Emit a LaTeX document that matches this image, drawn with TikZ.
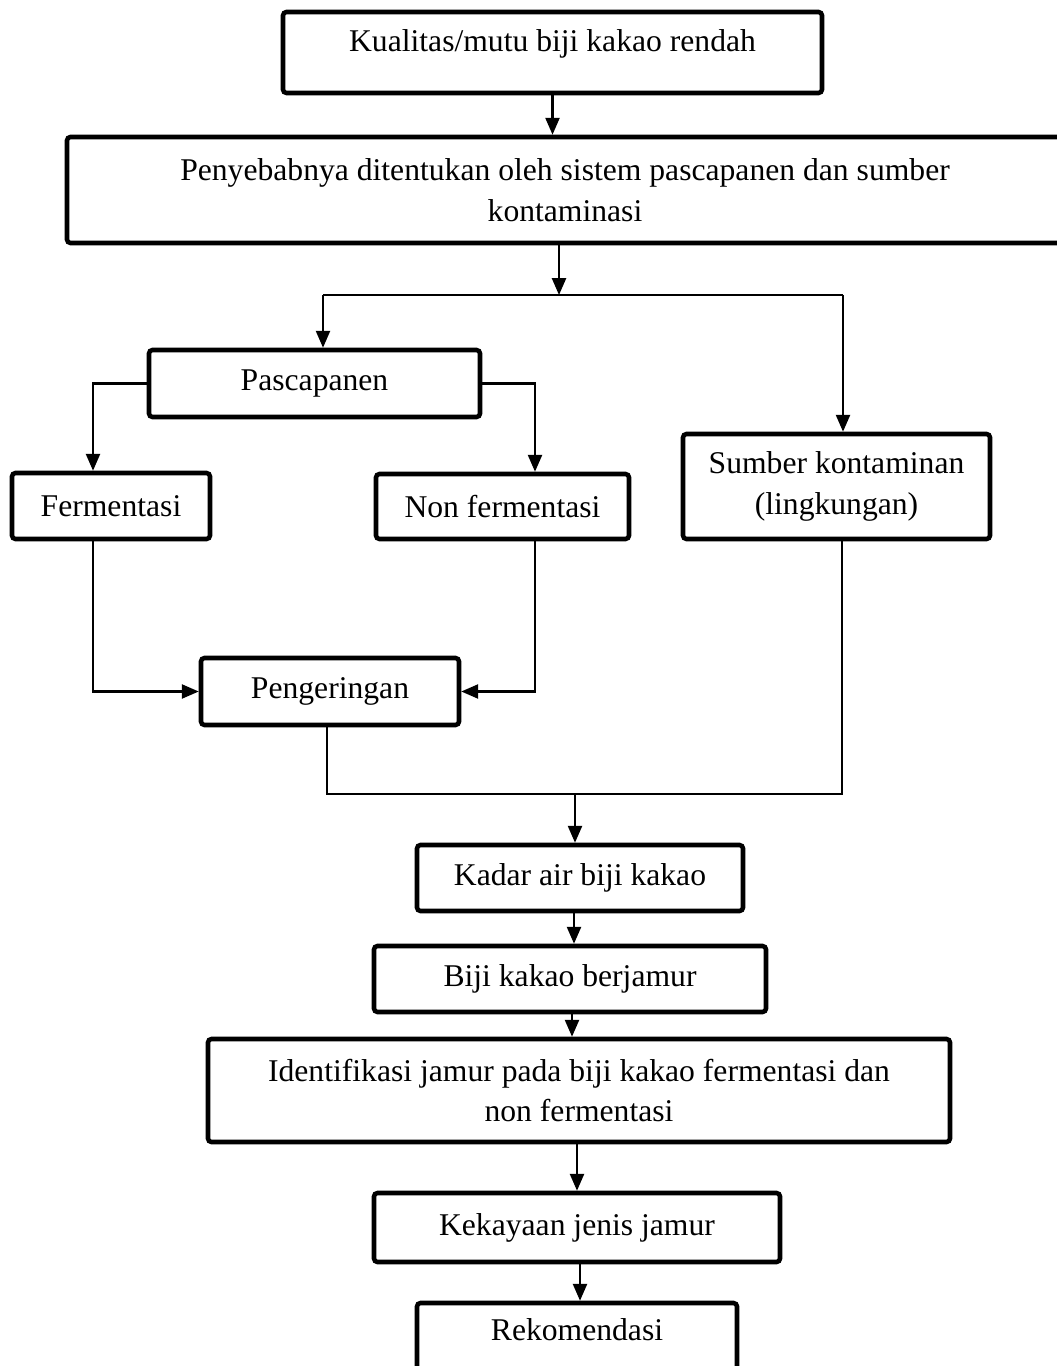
\documentclass[tikz,border=0pt]{standalone}
\usepackage{fontspec}
\setmainfont{Liberation Serif}
\usepackage{tikz}
\usetikzlibrary{arrows.meta,positioning,calc}

\begin{document}
\begin{tikzpicture}[
  font=\fontsize{9}{11.5}\selectfont,
  box/.style={draw, line width=1.3pt, rounded corners=1pt, align=center,
    inner sep=3pt},
  tallbox/.style={box, text depth=7pt},
  line/.style={line width=0.6pt},
  arr/.style={line, -{Triangle[length=4.8pt,width=4pt]}}]
  \useasboundingbox (0,0) rectangle (10.57,-13.66);
  % boxes
  \node[tallbox, minimum width=5.39cm, minimum height=0.81cm] (kual) at (5.525,-0.525) {Kualitas/mutu biji kakao rendah};
  \node[box, minimum width=9.96cm, minimum height=1.06cm] (peny) at (5.65,-1.90)
    {Penyebabnya ditentukan oleh sistem pascapanen dan sumber\\kontaminasi};
  \node[box, minimum width=3.31cm, minimum height=0.67cm] (pasca) at (3.145,-3.835) {Pascapanen};
  \node[box, minimum width=1.98cm, minimum height=0.66cm] (ferm) at (1.11,-5.06) {Fermentasi};
  \node[box, minimum width=2.53cm, minimum height=0.65cm] (nonf) at (5.025,-5.065) {Non fermentasi};
  \node[box, minimum width=3.07cm, minimum height=1.05cm] (sumb) at (8.365,-4.865) {Sumber kontaminan\\(lingkungan)};
  \node[box, minimum width=2.58cm, minimum height=0.67cm] (peng) at (3.30,-6.915) {Pengeringan};
  \node[box, minimum width=3.26cm, minimum height=0.66cm] (kadar) at (5.80,-8.78) {Kadar air biji kakao};
  \node[box, minimum width=3.92cm, minimum height=0.66cm] (biji) at (5.70,-9.79) {Biji kakao berjamur};
  \node[box, minimum width=7.42cm, minimum height=1.03cm] (ident) at (5.79,-10.905)
    {Identifikasi jamur pada biji kakao fermentasi dan\\non fermentasi};
  \node[box, minimum width=4.06cm, minimum height=0.69cm] (kek) at (5.77,-12.275) {Kekayaan jenis jamur};
  \node[tallbox, minimum width=3.20cm, minimum height=0.77cm] (rek) at (5.77,-13.415) {Rekomendasi};
  % junctions
  \coordinate (split) at (5.59,-2.95);
  \coordinate (splitL) at (3.23,-2.95);
  \coordinate (splitR) at (8.43,-2.95);
  \coordinate (merge) at (5.75,-7.94);
  % connectors
  \draw[arr] (kual.south) -- (kual.south |- peny.north);
  \draw[arr] (split |- peny.south) -- (split);
  \draw[line] (splitL) -- (splitR);
  \draw[arr] (splitL) -- (splitL |- pasca.north);
  \draw[arr] (splitR) -- (splitR |- sumb.north);
  \draw[arr] (pasca.west) -| ([xshift=-0.18cm]ferm.north);
  \draw[arr] (pasca.east) -| ([xshift=0.325cm]nonf.north);
  \draw[arr] ([xshift=-0.18cm]ferm.south) |- (peng.west);
  \draw[arr] ([xshift=0.325cm]nonf.south) |- (peng.east);
  \draw[line] ([xshift=-0.03cm]peng.south) |- (merge);
  \draw[line] ([xshift=0.055cm]sumb.south) |- (merge);
  \draw[arr] (merge) -- (merge |- kadar.north);
  \draw[arr] ([xshift=-0.06cm]kadar.south) -- ([xshift=-0.06cm]kadar.south |- biji.north);
  \draw[arr] ([xshift=0.02cm]biji.south) -- ([xshift=0.02cm]biji.south |- ident.north);
  \draw[arr] ([xshift=-0.02cm]ident.south) -- ([xshift=-0.02cm]ident.south |- kek.north);
  \draw[arr] ([xshift=0.03cm]kek.south) -- ([xshift=0.03cm]kek.south |- rek.north);
\end{tikzpicture}
\end{document}
